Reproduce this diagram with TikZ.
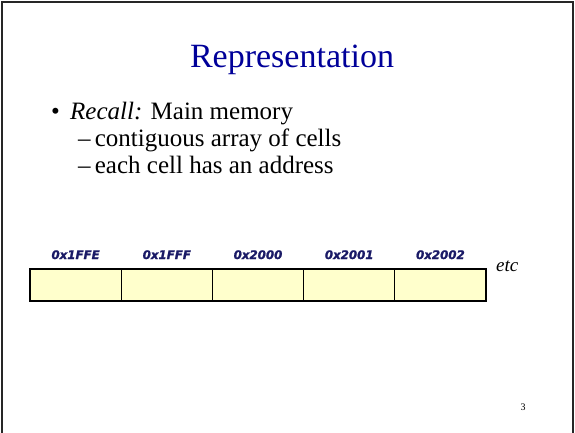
\documentclass[tikz,border=0pt]{standalone}
\usepackage{fontspec}
\setmainfont{Liberation Serif}
\newfontfamily\addrfont[BoldItalicFeatures={FakeBold=1.5}]{DejaVu Sans}
\begin{document}
\definecolor{titleblue}{RGB}{0,0,153}
\definecolor{addrnavy}{RGB}{26,26,102}
\definecolor{cellfill}{RGB}{255,255,204}
\begin{tikzpicture}[x=1pt,y=-1pt,
  titletext/.style={font=\fontsize{34}{38}\selectfont,text=titleblue,inner sep=0pt,anchor=base},
  bodytext/.style={font=\fontsize{25}{28}\selectfont,inner sep=0pt,anchor=base west},
  cell/.style={fill=cellfill,minimum width=91.2pt,minimum height=32pt,inner sep=0pt,outer sep=0pt,anchor=north west},
  cellborder/.style={draw=black,line width=1.3pt},
  addr/.style={font=\addrfont\bfseries\itshape\fontsize{11.8}{13}\selectfont,text=addrnavy,inner sep=0pt,anchor=base},
  frameline/.style={draw=black!85,line width=2pt}]
\useasboundingbox (0,0) rectangle (575,432);
% slide frame (open at the bottom)
\draw[frameline] (2,440) -- (2,2) -- (573,2) -- (573,440);
% title and bullet text
\node[titletext] (title) at (292,67) {Representation};
\node[bodytext] (bullet) at (51,119) {\textbullet};
\node[bodytext] (l1) at (70,119) {\textit{Recall:} Main memory};
\node[bodytext] (l2) at (78,146) {\textendash\,contiguous array of cells};
\node[bodytext] (l3) at (78,173) {\textendash\,each cell has an address};
% memory cells: fills first, then the borders so all dividers are equally thick
\foreach \i/\a in {0/0x1FFE,1/0x1FFF,2/0x2000,3/0x2001,4/0x2002}{
  \node[cell] (c\i) at ({30+91.2*\i},269) {};
  \node[addr] (a\i) at ([yshift=10pt]c\i.north) {\a};
}
\foreach \i in {0,...,4}{
  \draw[cellborder] (c\i.north west) rectangle (c\i.south east);
}
\node[font=\itshape\fontsize{19}{21}\selectfont,inner sep=0pt,anchor=base west] (etc) at (496,271) {etc};
% page number
\node[font=\fontsize{10}{12}\selectfont,inner sep=0pt,anchor=base] (page) at (523,410) {3};
\end{tikzpicture}
\end{document}
